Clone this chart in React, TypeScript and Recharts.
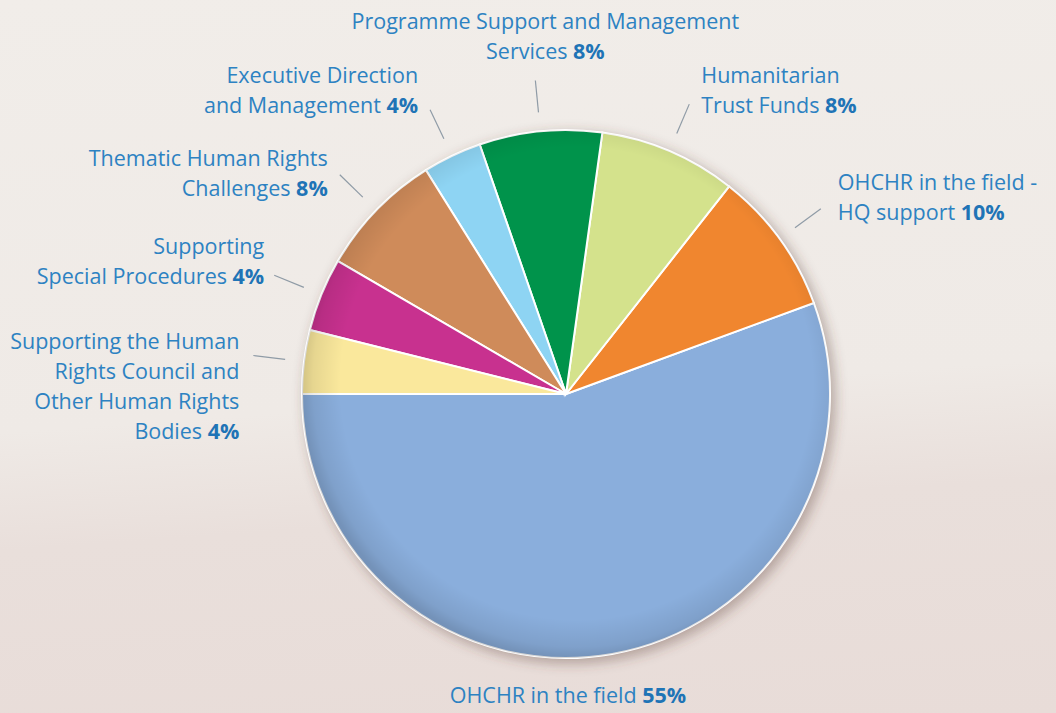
import React from 'react';
import { PieChart, Pie, Cell } from 'recharts';

// budget shares (clockwise from 9 o'clock, bottom first)
const categories = [
  'OHCHR in the field',
  'OHCHR in the field - HQ support',
  'Humanitarian Trust Funds',
  'Programme Support and Management Services',
  'Executive Direction and Management',
  'Thematic Human Rights Challenges',
  'Supporting Special Procedures',
  'Supporting the Human Rights Council and Other Human Rights Bodies',
];
const shares = [55.6, 8.8, 8.4, 7.5, 3.6, 7.7, 4.5, 3.9];
const printedPct = ['55%', '10%', '8%', '8%', '4%', '8%', '4%', '4%'];
const labelLines = [
  ['OHCHR in the field'],
  ['OHCHR in the field -', 'HQ support'],
  ['Humanitarian', 'Trust Funds'],
  ['Programme Support and Management', 'Services'],
  ['Executive Direction', 'and Management'],
  ['Thematic Human Rights', 'Challenges'],
  ['Supporting', 'Special Procedures'],
  ['Supporting the Human', 'Rights Council and', 'Other Human Rights', 'Bodies'],
];
const colors = ['#8aaedc', '#f0862f', '#d4e28c', '#00934b', '#8ed4f3', '#cf8b5a', '#c8318f', '#fae89c'];

const data = categories.map((name, i) => ({ name, value: shares[i] }));
const base = [{ name: 'base', value: 1 }];

// label placement relative to the end of each leader line
const layout = [
  { anchor: 'middle', dx: 2, dy: 37, leader: false },
  { anchor: 'start', dx: 17, dy: -26, leader: true },
  { anchor: 'start', dx: 12, dy: -29, leader: true },
  { anchor: 'middle', dx: 10, dy: -59, leader: true },
  { anchor: 'end', dx: -12, dy: -34, leader: true },
  { anchor: 'end', dx: -12, dy: -16, leader: true },
  { anchor: 'end', dx: -10, dy: -29, leader: true },
  { anchor: 'end', dx: -14, dy: -14, leader: true },
];

const RAD = Math.PI / 180;
const TEXT = '#2d82c2';
const FONT = '"Open Sans", sans-serif';
const LINE_H = 30;

const renderLabel = (props: any) => {
  const { cx, cy, midAngle, outerRadius, index } = props;
  const l = layout[index];
  const cos = Math.cos(-midAngle * RAD);
  const sin = Math.sin(-midAngle * RAD);
  const r0 = outerRadius + 19;
  const r1 = outerRadius + 51;
  let ax: number, ay: number;
  if (l.leader) {
    ax = cx + r1 * cos;
    ay = cy + r1 * sin;
  } else {
    ax = cx;
    ay = cy + outerRadius;
  }
  const tx = ax + l.dx;
  const lines = labelLines[index];
  return (
    <g key={`lbl-${index}`}>
      {l.leader && (
        <line
          x1={cx + r0 * cos}
          y1={cy + r0 * sin}
          x2={ax}
          y2={ay}
          stroke="#8f9ba6"
          strokeWidth={1.2}
        />
      )}
      <text textAnchor={l.anchor} fontFamily={FONT} fontSize={21.5} fill={TEXT}>
        {lines.map((s, j) => (
          <tspan key={j} x={tx} y={ay + l.dy + j * LINE_H + 7.5}>
            {s}
            {j === lines.length - 1 && (
              <tspan fontWeight={700} fill="#1f74b6">{' ' + printedPct[index]}</tspan>
            )}
          </tspan>
        ))}
      </text>
    </g>
  );
};

export default function App() {
  return (
    <div
      style={{
        position: 'absolute',
        left: 0,
        top: 0,
        width: 1056,
        height: 713,
        overflow: 'hidden',
        background:
          'linear-gradient(176deg, #f1ede9 0%, #efeae6 55%, #e9dfdb 70%, #e8dcd8 100%)',
      }}
    >
      <PieChart width={1056} height={713} margin={{ top: 0, right: 0, bottom: 0, left: 0 }}>
        <defs>
          <filter id="pieShadow" x="-20%" y="-20%" width="140%" height="140%">
            <feGaussianBlur stdDeviation="6" />
          </filter>
          <radialGradient id="edgeShade" cx="0.52" cy="0.48" r="0.52">
            <stop offset="0%" stopColor="#000" stopOpacity={0} />
            <stop offset="86%" stopColor="#000" stopOpacity={0} />
            <stop offset="96%" stopColor="#000" stopOpacity={0.08} />
            <stop offset="100%" stopColor="#000" stopOpacity={0.16} />
          </radialGradient>
        </defs>
        <Pie
          data={base}
          dataKey="value"
          cx={570}
          cy={398}
          outerRadius={266}
          stroke="none"
          fill="rgba(90,60,50,0.35)"
          style={{ filter: 'url(#pieShadow)' }}
          isAnimationActive={false}
        />
        <Pie
          data={data}
          dataKey="value"
          nameKey="name"
          cx={566}
          cy={394}
          outerRadius={264}
          startAngle={180}
          endAngle={540}
          stroke="#ffffff"
          strokeWidth={2}
          label={renderLabel}
          labelLine={false}
          isAnimationActive={false}
        >
          {data.map((d, i) => (
            <Cell key={d.name} fill={colors[i]} />
          ))}
        </Pie>
        <Pie
          data={base}
          dataKey="value"
          cx={566}
          cy={394}
          outerRadius={264}
          stroke="none"
          fill="url(#edgeShade)"
          isAnimationActive={false}
        />
      </PieChart>
    </div>
  );
}
